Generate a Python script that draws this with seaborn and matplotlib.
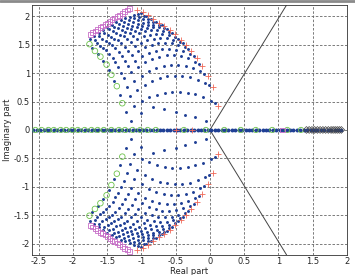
import numpy as np
import pandas as pd
import matplotlib
matplotlib.use("Agg")
import matplotlib.pyplot as plt
import seaborn as sns

# upper half only, the lower half is the mirror image (conjugate pairs)
sq_x = [-1.75, -1.71, -1.67, -1.64, -1.60, -1.57, -1.53, -1.50, -1.46, -1.43, -1.39, -1.35, -1.32, -1.28, -1.25, -1.21, -1.18]
sq_y = [1.68, 1.71, 1.74, 1.77, 1.80, 1.83, 1.85, 1.88, 1.91, 1.94, 1.97, 1.99, 2.02, 2.05, 2.08, 2.11, 2.14]

pl_x = [-1.06, -0.98, -0.90, -0.83, -0.75, -0.67, -0.58, -0.51, -0.42, -0.35, -0.27, -0.19, -0.12, -0.03, 0.04, 0.12]
pl_y = [2.11, 2.07, 2.02, 1.96, 1.89, 1.83, 1.76, 1.68, 1.58, 1.50, 1.39, 1.26, 1.13, 0.95, 0.75, 0.43]

ci_x = [-1.76, -1.68, -1.60, -1.51, -1.44, -1.36, -1.28]
ci_y = [1.51, 1.39, 1.29, 1.15, 0.97, 0.77, 0.47]

# markers sitting on the real axis
ci_ax = [-2.55, -2.46, -2.36, -2.28, -2.18, -2.10, -2.01, -1.93, -1.83, -1.73, -1.64, -1.55, -1.44,
         -1.33, -1.24, -1.13, -1.02, -0.91, -0.79, -0.38, -0.06, 0.21, 0.45, 0.67, 0.91, 1.13, 1.33]
pl_ax = [-0.50, -0.26]
sq_ax = [1.06]
bx_ax = [1.41, 1.45, 1.49, 1.53, 1.57, 1.61, 1.65, 1.69, 1.73, 1.77, 1.80, 1.83, 1.86, 1.89, 1.92]

# blue dots, one list per arc (left edge -> right edge of the fan)
row_x = [
    [-1.755, -1.690, -1.626, -1.561, -1.497, -1.432, -1.368, -1.303, -1.238, -1.174, -1.109, -1.045, -1.011],
    [-1.685, -1.614, -1.542, -1.471, -1.399, -1.328, -1.256, -1.184, -1.113, -1.041, -0.970, -0.932],
    [-1.720, -1.645, -1.571, -1.496, -1.422, -1.347, -1.273, -1.198, -1.123, -1.049, -0.974, -0.900, -0.861],
    [-1.600, -1.523, -1.445, -1.368, -1.290, -1.213, -1.135, -1.057, -0.980, -0.902, -0.825, -0.784],
    [-1.640, -1.559, -1.478, -1.396, -1.315, -1.234, -1.153, -1.072, -0.990, -0.909, -0.828, -0.746, -0.704],
    [-1.512, -1.428, -1.343, -1.259, -1.174, -1.090, -1.005, -0.920, -0.836, -0.751, -0.667, -0.623],
    [-1.555, -1.468, -1.380, -1.293, -1.205, -1.118, -1.030, -0.943, -0.855, -0.768, -0.680, -0.593, -0.547],
    [-1.423, -1.332, -1.241, -1.150, -1.059, -0.968, -0.877, -0.786, -0.695, -0.604, -0.513, -0.466],
    [-1.475, -1.381, -1.287, -1.194, -1.100, -1.006, -0.912, -0.818, -0.724, -0.631, -0.537, -0.443, -0.394],
    [-1.340, -1.242, -1.145, -1.047, -0.950, -0.852, -0.755, -0.657, -0.560, -0.462, -0.365, -0.314],
    [-1.400, -1.299, -1.198, -1.097, -0.996, -0.895, -0.795, -0.694, -0.593, -0.492, -0.391, -0.290, -0.237],
    [-1.255, -1.151, -1.048, -0.944, -0.841, -0.737, -0.634, -0.530, -0.427, -0.323, -0.220, -0.166],
    [-1.320, -1.213, -1.106, -0.998, -0.891, -0.784, -0.677, -0.570, -0.462, -0.355, -0.248, -0.140, -0.084],
    [-1.171, -1.061, -0.951, -0.841, -0.731, -0.621, -0.511, -0.401, -0.291, -0.181, -0.071, -0.014],
    [-1.220, -1.108, -0.997, -0.885, -0.773, -0.661, -0.550, -0.438, -0.326, -0.214, -0.103, 0.009, 0.067],
    [-1.160, -1.000, -0.830, -0.670, -0.500, -0.360, -0.220, -0.060],
]
row_y = [
    [1.600, 1.657, 1.711, 1.761, 1.808, 1.852, 1.893, 1.929, 1.963, 1.994, 2.021, 2.044, 2.055],
    [1.582, 1.650, 1.711, 1.768, 1.818, 1.864, 1.903, 1.937, 1.966, 1.989, 2.007, 2.013],
    [1.450, 1.532, 1.607, 1.675, 1.736, 1.788, 1.835, 1.873, 1.905, 1.930, 1.946, 1.957, 1.959],
    [1.482, 1.563, 1.636, 1.699, 1.755, 1.800, 1.838, 1.865, 1.885, 1.895, 1.897, 1.894],
    [1.340, 1.439, 1.528, 1.605, 1.672, 1.729, 1.775, 1.811, 1.835, 1.850, 1.854, 1.847, 1.839],
    [1.399, 1.493, 1.575, 1.645, 1.702, 1.747, 1.779, 1.800, 1.808, 1.804, 1.788, 1.775],
    [1.220, 1.335, 1.436, 1.524, 1.597, 1.656, 1.702, 1.734, 1.751, 1.756, 1.746, 1.721, 1.704],
    [1.269, 1.375, 1.466, 1.541, 1.601, 1.645, 1.674, 1.687, 1.685, 1.667, 1.634, 1.609],
    [1.060, 1.188, 1.300, 1.394, 1.473, 1.534, 1.579, 1.607, 1.618, 1.613, 1.591, 1.553, 1.526],
    [1.103, 1.218, 1.315, 1.394, 1.456, 1.501, 1.527, 1.535, 1.526, 1.499, 1.454, 1.423],
    [0.870, 1.004, 1.119, 1.216, 1.294, 1.355, 1.397, 1.420, 1.425, 1.413, 1.381, 1.331, 1.298],
    [0.906, 1.020, 1.116, 1.193, 1.252, 1.290, 1.311, 1.312, 1.294, 1.258, 1.203, 1.166],
    [0.620, 0.752, 0.865, 0.958, 1.033, 1.090, 1.127, 1.145, 1.144, 1.125, 1.087, 1.029, 0.992],
    [0.598, 0.703, 0.790, 0.859, 0.910, 0.942, 0.955, 0.950, 0.927, 0.886, 0.827, 0.789],
    [0.320, 0.421, 0.505, 0.571, 0.622, 0.656, 0.673, 0.674, 0.658, 0.624, 0.575, 0.509, 0.468],
    [0.160, 0.300, 0.400, 0.360, 0.310, 0.270, 0.220, 0.160],
]

# real-axis eigenvalues (dense blue band)
ax_x = [-2.58, -2.53, -2.48, -2.43, -2.38, -2.33, -2.28, -2.23, -2.18, -2.13, -2.08, -2.03, -1.98, -1.93,
        -1.88, -1.83, -1.78, -1.73, -1.68, -1.63, -1.58, -1.53, -1.48, -1.43, -1.38, -1.33, -1.28, -1.23,
        -1.18, -1.13, -1.08, -1.03, -0.98, -0.93, -0.88, -0.83, -0.78, -0.73, -0.68, -0.63, -0.58, -0.53,
        -0.48, -0.43, -0.38, -0.33, -0.28, -0.23, -0.18, -0.13, -0.08, -0.03, 0.02, 0.07, 0.12, 0.17,
        0.22, 0.27, 0.32, 0.37, 0.42, 0.47, 0.52, 0.57, 0.62, 0.67, 0.72, 0.77, 0.82, 0.87, 0.92, 0.97,
        1.02, 1.07, 1.12, 1.17, 1.22, 1.27, 1.32, 1.37, 1.42, 1.47, 1.52, 1.57, 1.62, 1.67, 1.72, 1.77,
        1.82, 1.87, 1.92]

ray_x = [0.0, 1.12]
ray_y = [0.0, 2.2]

up = pd.DataFrame({"re": sum(row_x, []), "im": sum(row_y, [])})
dots = pd.concat([up, pd.DataFrame({"re": up.re, "im": -up.im})])
axis_dots = pd.DataFrame({"re": ax_x, "im": 0.0})


def mirror(xs, ys):
    return pd.DataFrame({"re": list(xs) * 2, "im": list(ys) + [-v for v in ys]})


sns.set_style("white")
fig = plt.figure(figsize=(3.55, 2.75), dpi=100)
ax = fig.add_axes([0.09, 0.073, 0.887, 0.909])
fig.add_artist(plt.Line2D([0, 1], [0.996, 0.996], transform=fig.transFigure, color="#8a8a8a", lw=2))

ax.plot(ray_x, ray_y, color="#444444", lw=0.7, zorder=1)
ax.plot(ray_x, [-v for v in ray_y], color="#444444", lw=0.7, zorder=1)

blue = "#1f3f95"
sns.scatterplot(data=dots, x="re", y="im", ax=ax, color=blue, s=4.5, marker="o",
                linewidth=0, zorder=3, legend=False)
sns.scatterplot(data=axis_dots, x="re", y="im", ax=ax, color=blue, s=8, marker="o",
                linewidth=0, zorder=3, legend=False)
sns.scatterplot(data=mirror(sq_x, sq_y), x="re", y="im", ax=ax, marker="s", s=12,
                facecolor="none", edgecolor="#c86ec8", linewidth=0.6, zorder=4, legend=False)
sns.scatterplot(data=mirror(ci_x, ci_y), x="re", y="im", ax=ax, marker="o", s=16,
                facecolor="none", edgecolor="#6cc24a", linewidth=0.6, zorder=4, legend=False)
sns.scatterplot(data=mirror(pl_x, pl_y), x="re", y="im", ax=ax, marker="+", s=18,
                color="#f06a5a", linewidth=0.6, zorder=4, legend=False)
sns.scatterplot(x=ci_ax, y=[0.0] * len(ci_ax), ax=ax, marker="o", s=14, facecolor="none",
                edgecolor="#6cc24a", linewidth=0.6, zorder=4, legend=False)
sns.scatterplot(x=pl_ax, y=[0.0] * len(pl_ax), ax=ax, marker="+", s=18, color="#f06a5a",
                linewidth=0.6, zorder=4, legend=False)
sns.scatterplot(x=sq_ax, y=[0.0] * len(sq_ax), ax=ax, marker="s", s=12, facecolor="none",
                edgecolor="#c86ec8", linewidth=0.6, zorder=4, legend=False)
sns.scatterplot(x=bx_ax, y=[0.0] * len(bx_ax), ax=ax, marker="D", s=12, facecolor="none",
                edgecolor="#444444", linewidth=0.5, zorder=4, legend=False)

ax.set_xlim(-2.6, 2.0)
ax.set_ylim(-2.2, 2.2)
ax.set_xticks(np.arange(-2.5, 2.01, 0.5))
ax.set_xticklabels(["-2.5", "-2", "-1.5", "-1", "-0.5", "0", "0.5", "1", "1.5", "2"])
ax.set_yticks(np.arange(-2, 2.01, 0.5))
ax.set_yticklabels(["-2", "-1.5", "-1", "-0.5", "0", "0.5", "1", "1.5", "2"])
ax.grid(True, color="#666666", linestyle=(0, (3, 2)), linewidth=0.6)
ax.tick_params(labelsize=6, length=2, width=0.5, pad=1.5, direction="in")
for s in ax.spines.values():
    s.set_linewidth(0.6)
    s.set_color("#333333")
ax.set_xlabel("Real part", fontsize=6, labelpad=1)
ax.set_ylabel("Imaginary part", fontsize=6, labelpad=1)

fig.savefig("out.png", dpi=100)
